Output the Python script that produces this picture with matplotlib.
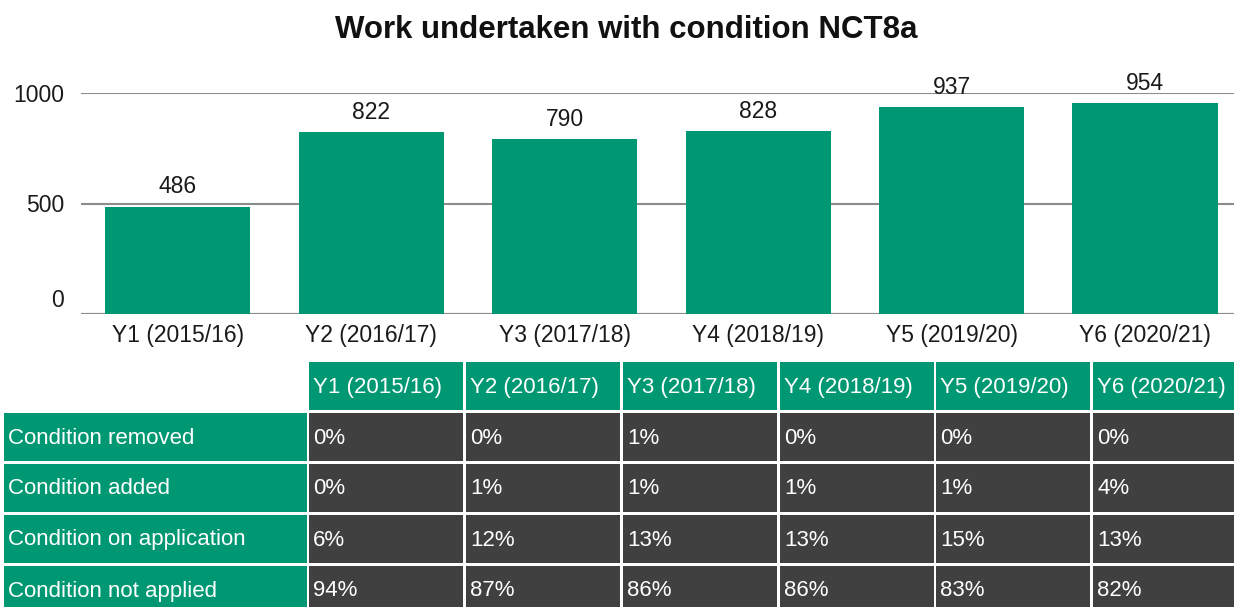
import matplotlib.pyplot as plt
from matplotlib.patches import Rectangle
from matplotlib.transforms import ScaledTranslation

plt.rcParams['font.family'] = ['Liberation Sans', 'DejaVu Sans']

years = ["Y1 (2015/16)", "Y2 (2016/17)", "Y3 (2017/18)",
         "Y4 (2018/19)", "Y5 (2019/20)", "Y6 (2020/21)"]
work_counts = [486, 822, 790, 828, 937, 954]

row_labels = ["Condition removed", "Condition added",
              "Condition on application", "Condition not applied"]
removed = ["0%", "0%", "1%", "0%", "0%", "0%"]
added = ["0%", "1%", "1%", "1%", "1%", "4%"]
on_application = ["6%", "12%", "13%", "13%", "15%", "13%"]
not_applied = ["94%", "87%", "86%", "86%", "83%", "82%"]

GREEN = "#009873"
DARK = "#404040"
TEXT = "#1a1a1a"
W, H = 1234, 607

fig = plt.figure(figsize=(W / 100, H / 100), dpi=100)

# background layer in pixel units for the table
tab = fig.add_axes([0, 0, 1, 1])
tab.set_xlim(0, W)
tab.set_ylim(H, 0)
tab.axis("off")

col_x = [4, 309, 466, 623, 780, 936, 1093]
col_w = [303] + [154] * 5 + [145]
row_y = [362, 413, 464, 515, 566]
row_h = 48

def cell(x, y, w, h, color, text):
    tab.add_patch(Rectangle((x, y), w, h, facecolor=color, edgecolor="none"))
    tab.text(x + 4, y + h / 2 + 1, text, color="white", fontsize=16,
             ha="left", va="center")

for j, yr in enumerate(years):
    cell(col_x[j + 1], row_y[0], col_w[j + 1], row_h, GREEN, yr)

rows = [removed, added, on_application, not_applied]
for i, (label, vals) in enumerate(zip(row_labels, rows)):
    y = row_y[i + 1]
    cell(col_x[0], y, col_w[0], row_h, GREEN, label)
    for j, v in enumerate(vals):
        cell(col_x[j + 1], y, col_w[j + 1], row_h, DARK, v)

# bar chart
ax = fig.add_axes([81 / W, (H - 314) / H, (W - 81) / W, 221 / H])
x = range(len(years))
ax.bar(x, work_counts, width=0.75, color=GREEN, zorder=2)
ax.set_xlim(-0.5, 5.46)
ax.set_ylim(0, 1000)
ax.set_yticks([0, 500, 1000])
ax.set_xticks(list(x))
ax.set_xticklabels(years)
ax.tick_params(length=0, labelsize=16.5, colors=TEXT)
ax.tick_params(axis="y", pad=12)
ax.tick_params(axis="x", pad=7)
ax.grid(axis="y", color="#8c8c8c", linewidth=1.5, zorder=1)
ax.set_axisbelow(True)
for s in ax.spines.values():
    s.set_visible(False)
ax.axhline(0, color="#8c8c8c", linewidth=1.5, zorder=1)
ax.set_facecolor("none")

# the zero label sits a little above its gridline
fig.canvas.draw()
zero_lbl = ax.get_yticklabels()[0]
zero_lbl.set_transform(zero_lbl.get_transform() +
                       ScaledTranslation(0, 16 / 100, fig.dpi_scale_trans))

for xi, v in zip(x, work_counts):
    ax.annotate(str(v), (xi, v), xytext=(0, 6), textcoords="offset points",
                ha="center", va="bottom", fontsize=16.5, color=TEXT,
                annotation_clip=False)

fig.text(626 / W, 1 - 30 / H, "Work undertaken with condition NCT8a",
         ha="center", va="center", fontsize=22.5, fontweight="bold", color="#111111")

fig.savefig("out.png", dpi=100)
